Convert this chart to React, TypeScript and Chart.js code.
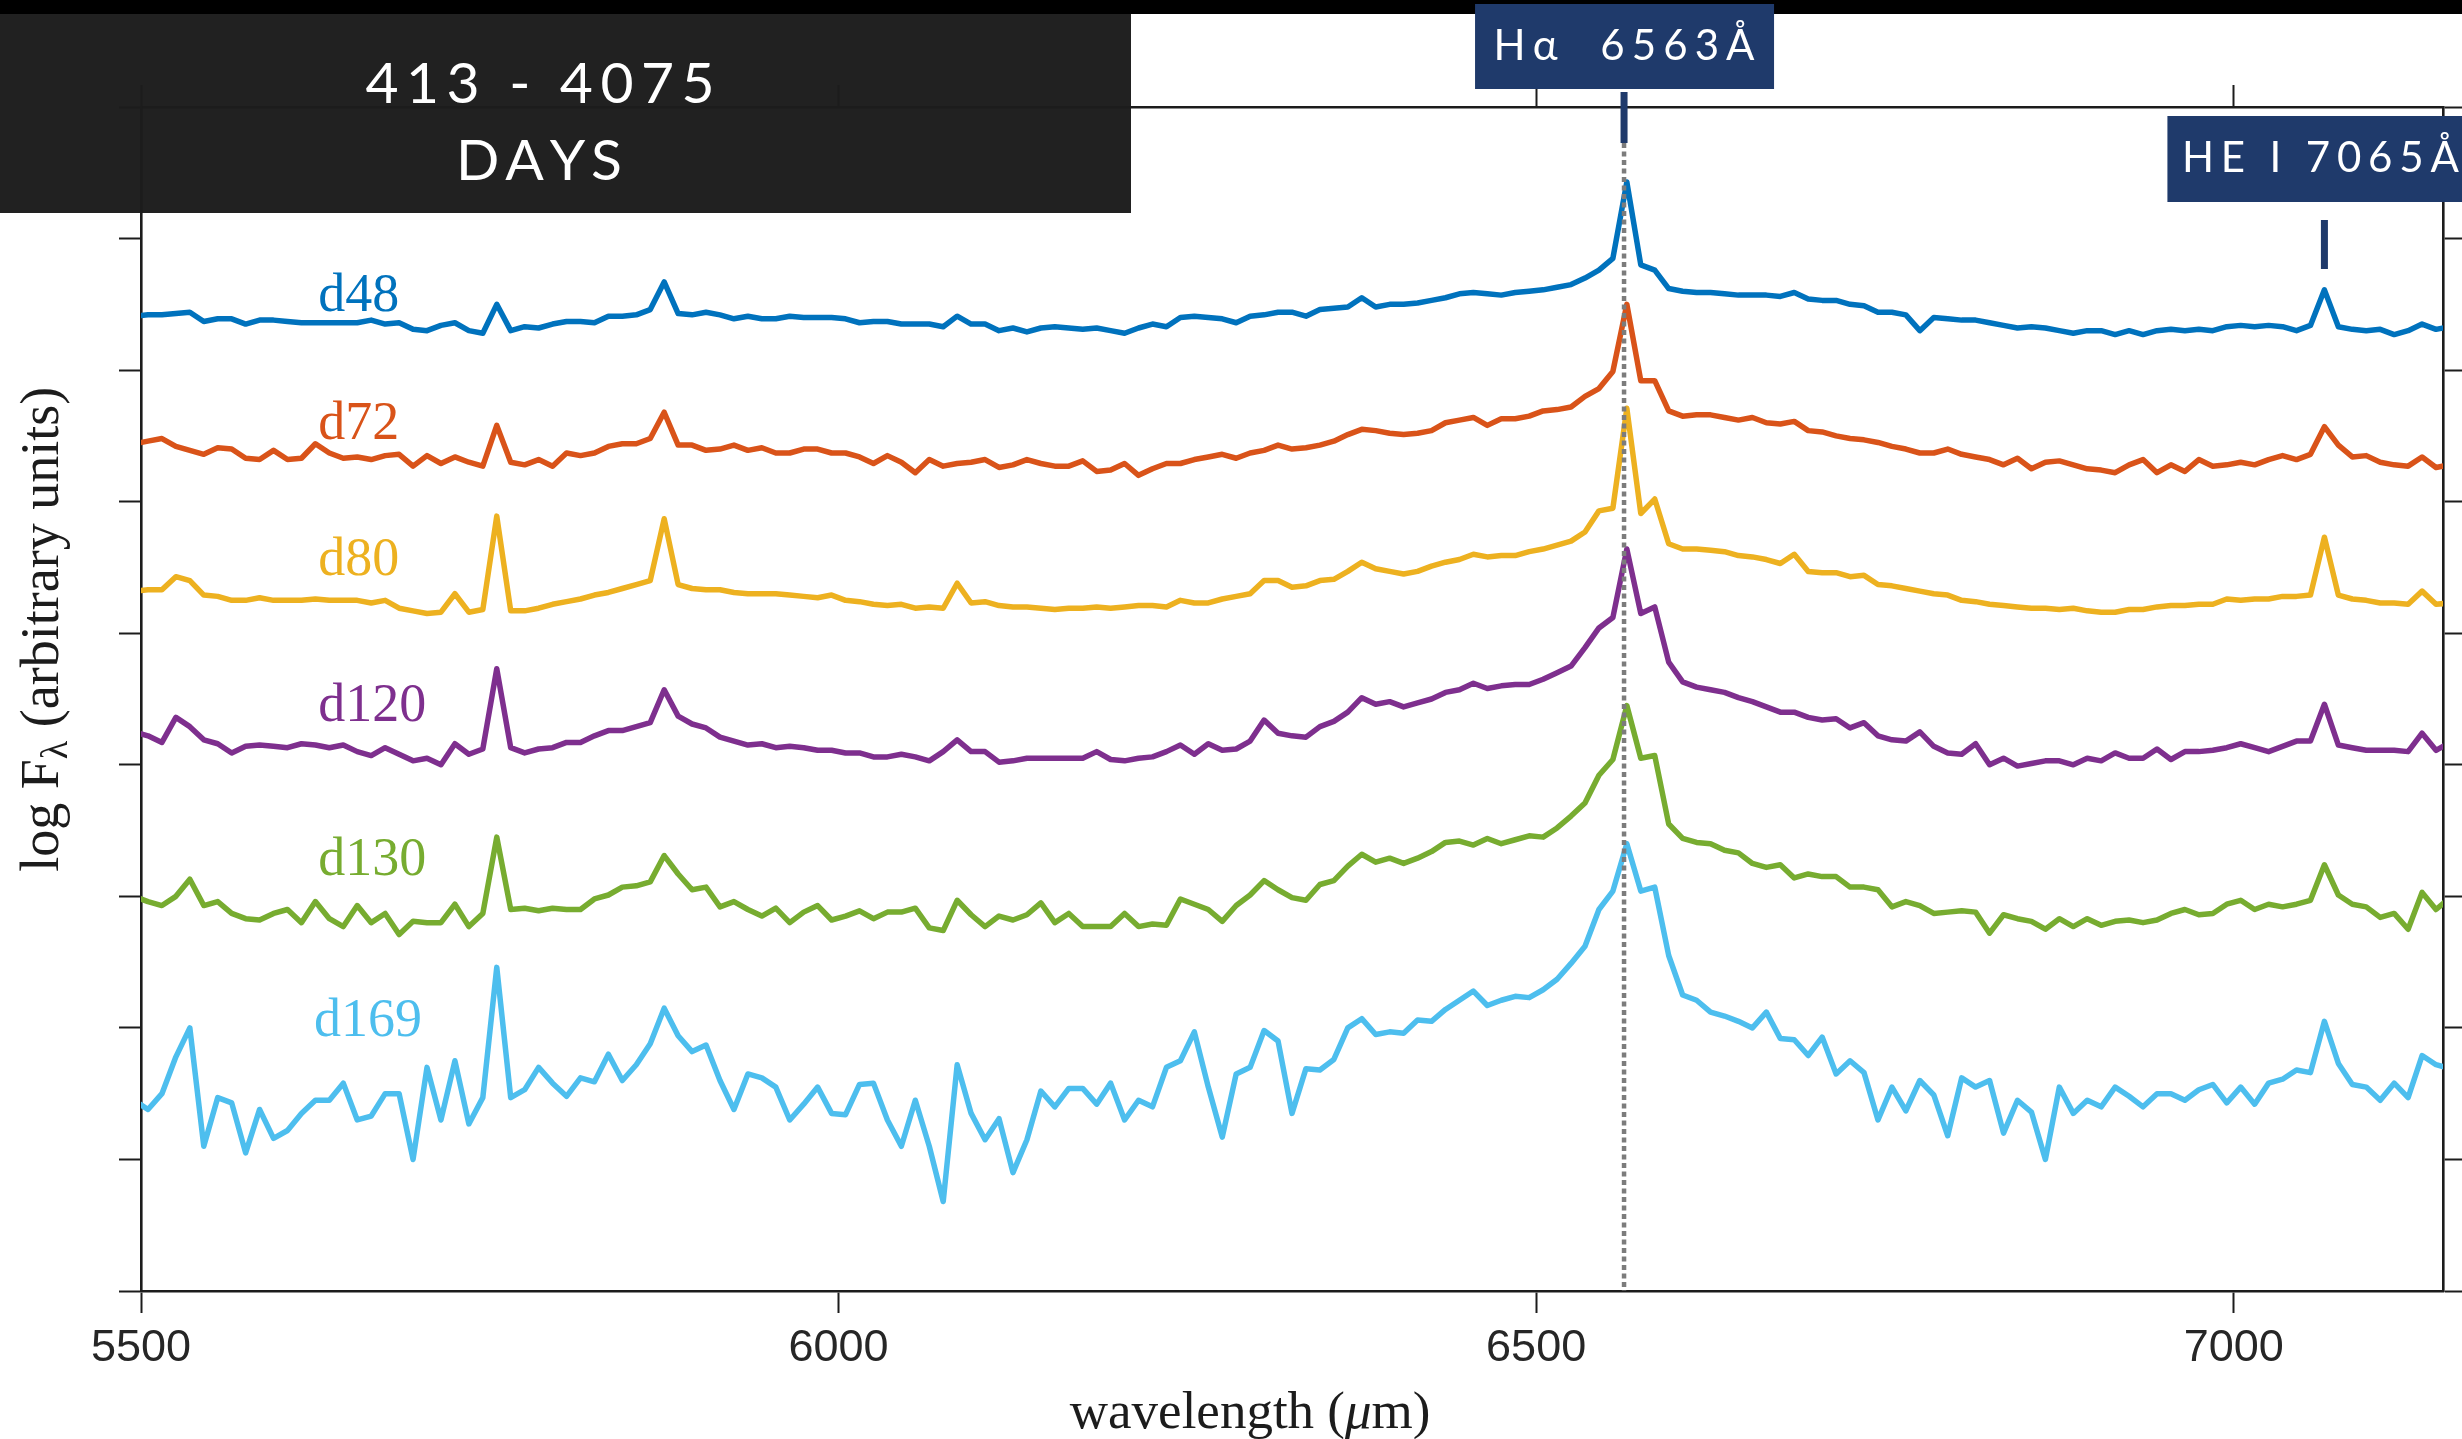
import React, { useEffect, useRef } from 'react';
import { Chart, registerables } from 'chart.js';

Chart.register(...registerables);

// Wavelength grid shared by every spectrum (Å)
const WAVELENGTH = [
  5495, 5505, 5515, 5525, 5535, 5545, 5555, 5565, 5575, 5585,
  5595, 5605, 5615, 5625, 5635, 5645, 5655, 5665, 5675, 5685,
  5695, 5705, 5715, 5725, 5735, 5745, 5755, 5765, 5775, 5785,
  5795, 5805, 5815, 5825, 5835, 5845, 5855, 5865, 5875, 5885,
  5895, 5905, 5915, 5925, 5935, 5945, 5955, 5965, 5975, 5985,
  5995, 6005, 6015, 6025, 6035, 6045, 6055, 6065, 6075, 6085,
  6095, 6105, 6115, 6125, 6135, 6145, 6155, 6165, 6175, 6185,
  6195, 6205, 6215, 6225, 6235, 6245, 6255, 6265, 6275, 6285,
  6295, 6305, 6315, 6325, 6335, 6345, 6355, 6365, 6375, 6385,
  6395, 6405, 6415, 6425, 6435, 6445, 6455, 6465, 6475, 6485,
  6495, 6505, 6515, 6525, 6535, 6545, 6555, 6565, 6575, 6585,
  6595, 6605, 6615, 6625, 6635, 6645, 6655, 6665, 6675, 6685,
  6695, 6705, 6715, 6725, 6735, 6745, 6755, 6765, 6775, 6785,
  6795, 6805, 6815, 6825, 6835, 6845, 6855, 6865, 6875, 6885,
  6895, 6905, 6915, 6925, 6935, 6945, 6955, 6965, 6975, 6985,
  6995, 7005, 7015, 7025, 7035, 7045, 7055, 7065, 7075, 7085,
  7095, 7105, 7115, 7125, 7135, 7145, 7155,
];

// log F_lambda, each epoch offset vertically
const D48 = [
  7.41, 7.42, 7.42, 7.43, 7.44, 7.37, 7.39, 7.39, 7.35, 7.38,
  7.38, 7.37, 7.36, 7.36, 7.36, 7.36, 7.36, 7.38, 7.35, 7.36,
  7.31, 7.30, 7.34, 7.36, 7.30, 7.28, 7.50, 7.30, 7.33, 7.32,
  7.35, 7.37, 7.37, 7.36, 7.41, 7.41, 7.42, 7.46, 7.67, 7.43,
  7.42, 7.44, 7.42, 7.39, 7.41, 7.39, 7.39, 7.41, 7.40, 7.40,
  7.40, 7.39, 7.36, 7.37, 7.37, 7.35, 7.35, 7.35, 7.33, 7.41,
  7.35, 7.35, 7.30, 7.32, 7.29, 7.32, 7.33, 7.32, 7.31, 7.32,
  7.30, 7.28, 7.32, 7.35, 7.33, 7.40, 7.41, 7.40, 7.39, 7.36,
  7.41, 7.42, 7.44, 7.44, 7.41, 7.46, 7.47, 7.48, 7.55, 7.48,
  7.50, 7.50, 7.51, 7.53, 7.55, 7.58, 7.59, 7.58, 7.57, 7.59,
  7.60, 7.61, 7.63, 7.65, 7.70, 7.76, 7.85, 8.43, 7.80, 7.76,
  7.62, 7.60, 7.59, 7.59, 7.58, 7.57, 7.57, 7.57, 7.56, 7.59,
  7.54, 7.53, 7.53, 7.50, 7.49, 7.44, 7.44, 7.42, 7.30, 7.40,
  7.39, 7.38, 7.38, 7.36, 7.34, 7.32, 7.33, 7.32, 7.30, 7.28,
  7.30, 7.30, 7.27, 7.30, 7.27, 7.30, 7.31, 7.30, 7.31, 7.30,
  7.33, 7.34, 7.33, 7.34, 7.33, 7.30, 7.34, 7.61, 7.33, 7.31,
  7.30, 7.31, 7.27, 7.30, 7.35, 7.31, 7.33,
];

const D72 = [
  6.44, 6.46, 6.48, 6.42, 6.39, 6.36, 6.41, 6.40, 6.33, 6.32,
  6.39, 6.32, 6.33, 6.44, 6.37, 6.33, 6.34, 6.32, 6.35, 6.36,
  6.27, 6.35, 6.29, 6.34, 6.30, 6.27, 6.58, 6.30, 6.28, 6.32,
  6.27, 6.37, 6.35, 6.37, 6.42, 6.44, 6.44, 6.48, 6.68, 6.43,
  6.43, 6.39, 6.40, 6.43, 6.39, 6.41, 6.37, 6.37, 6.40, 6.40,
  6.37, 6.37, 6.34, 6.29, 6.35, 6.30, 6.22, 6.32, 6.27, 6.29,
  6.30, 6.32, 6.26, 6.28, 6.32, 6.29, 6.27, 6.27, 6.31, 6.23,
  6.24, 6.29, 6.20, 6.25, 6.29, 6.29, 6.32, 6.34, 6.36, 6.33,
  6.37, 6.39, 6.43, 6.40, 6.41, 6.43, 6.46, 6.51, 6.55, 6.54,
  6.52, 6.51, 6.52, 6.54, 6.60, 6.62, 6.64, 6.58, 6.63, 6.63,
  6.65, 6.69, 6.70, 6.72, 6.80, 6.86, 6.99, 7.50, 6.92, 6.92,
  6.69, 6.65, 6.66, 6.66, 6.64, 6.62, 6.64, 6.60, 6.59, 6.61,
  6.54, 6.53, 6.50, 6.48, 6.47, 6.45, 6.42, 6.40, 6.37, 6.37,
  6.40, 6.36, 6.34, 6.32, 6.28, 6.33, 6.25, 6.30, 6.31, 6.28,
  6.25, 6.24, 6.22, 6.28, 6.32, 6.22, 6.28, 6.23, 6.32, 6.27,
  6.28, 6.30, 6.28, 6.32, 6.35, 6.32, 6.36, 6.57, 6.43, 6.34,
  6.35, 6.30, 6.28, 6.27, 6.34, 6.26, 6.28,
];

const D80 = [
  5.32, 5.33, 5.33, 5.43, 5.40, 5.29, 5.28, 5.25, 5.25, 5.27,
  5.25, 5.25, 5.25, 5.26, 5.25, 5.25, 5.25, 5.23, 5.25, 5.19,
  5.17, 5.15, 5.16, 5.30, 5.16, 5.18, 5.89, 5.17, 5.17, 5.19,
  5.22, 5.24, 5.26, 5.29, 5.31, 5.34, 5.37, 5.40, 5.87, 5.37,
  5.34, 5.33, 5.33, 5.31, 5.30, 5.30, 5.30, 5.29, 5.28, 5.27,
  5.29, 5.25, 5.24, 5.22, 5.21, 5.22, 5.19, 5.20, 5.19, 5.38,
  5.23, 5.24, 5.21, 5.20, 5.20, 5.19, 5.18, 5.19, 5.19, 5.20,
  5.19, 5.20, 5.21, 5.21, 5.20, 5.25, 5.23, 5.23, 5.26, 5.28,
  5.30, 5.40, 5.40, 5.35, 5.36, 5.40, 5.41, 5.47, 5.54, 5.49,
  5.47, 5.45, 5.47, 5.51, 5.54, 5.56, 5.60, 5.58, 5.59, 5.59,
  5.62, 5.64, 5.67, 5.70, 5.77, 5.93, 5.95, 6.71, 5.91, 6.02,
  5.68, 5.64, 5.64, 5.63, 5.62, 5.59, 5.58, 5.56, 5.53, 5.60,
  5.47, 5.46, 5.46, 5.43, 5.44, 5.37, 5.36, 5.34, 5.32, 5.30,
  5.29, 5.25, 5.24, 5.22, 5.21, 5.20, 5.19, 5.19, 5.18, 5.19,
  5.17, 5.16, 5.16, 5.18, 5.18, 5.20, 5.21, 5.21, 5.22, 5.22,
  5.26, 5.25, 5.26, 5.26, 5.28, 5.28, 5.29, 5.73, 5.29, 5.26,
  5.25, 5.23, 5.23, 5.22, 5.32, 5.22, 5.23,
];

const D120 = [
  4.25, 4.22, 4.17, 4.36, 4.29, 4.19, 4.16, 4.09, 4.14, 4.15,
  4.14, 4.13, 4.16, 4.15, 4.13, 4.15, 4.10, 4.07, 4.13, 4.08,
  4.03, 4.05, 4.00, 4.16, 4.08, 4.12, 4.73, 4.13, 4.09, 4.12,
  4.13, 4.17, 4.17, 4.22, 4.26, 4.26, 4.29, 4.32, 4.57, 4.37,
  4.31, 4.28, 4.21, 4.18, 4.15, 4.16, 4.13, 4.14, 4.13, 4.11,
  4.11, 4.09, 4.09, 4.06, 4.06, 4.08, 4.06, 4.03, 4.10, 4.19,
  4.10, 4.10, 4.02, 4.03, 4.05, 4.05, 4.05, 4.05, 4.05, 4.10,
  4.04, 4.03, 4.05, 4.06, 4.10, 4.15, 4.08, 4.16, 4.11, 4.12,
  4.18, 4.34, 4.24, 4.22, 4.21, 4.29, 4.33, 4.40, 4.51, 4.46,
  4.48, 4.44, 4.47, 4.50, 4.55, 4.57, 4.62, 4.58, 4.60, 4.61,
  4.61, 4.65, 4.70, 4.75, 4.89, 5.04, 5.12, 5.64, 5.15, 5.20,
  4.78, 4.63, 4.59, 4.57, 4.55, 4.51, 4.48, 4.44, 4.40, 4.40,
  4.36, 4.34, 4.35, 4.28, 4.32, 4.22, 4.19, 4.18, 4.25, 4.14,
  4.09, 4.08, 4.16, 4.00, 4.05, 3.99, 4.01, 4.03, 4.03, 4.00,
  4.05, 4.03, 4.09, 4.05, 4.05, 4.12, 4.04, 4.10, 4.10, 4.11,
  4.13, 4.16, 4.13, 4.10, 4.14, 4.18, 4.18, 4.46, 4.15, 4.13,
  4.11, 4.11, 4.11, 4.10, 4.24, 4.11, 4.17,
];

const D130 = [
  3.00, 2.96, 2.93, 3.00, 3.13, 2.93, 2.96, 2.87, 2.83, 2.82,
  2.87, 2.90, 2.80, 2.96, 2.83, 2.77, 2.93, 2.80, 2.87, 2.71,
  2.81, 2.80, 2.80, 2.94, 2.77, 2.87, 3.45, 2.90, 2.91, 2.89,
  2.91, 2.90, 2.90, 2.98, 3.01, 3.07, 3.08, 3.11, 3.31, 3.17,
  3.05, 3.07, 2.92, 2.96, 2.90, 2.85, 2.91, 2.80, 2.88, 2.93,
  2.82, 2.85, 2.89, 2.83, 2.88, 2.88, 2.91, 2.76, 2.74, 2.97,
  2.86, 2.77, 2.85, 2.82, 2.86, 2.95, 2.80, 2.87, 2.77, 2.77,
  2.77, 2.87, 2.77, 2.79, 2.78, 2.98, 2.94, 2.90, 2.81, 2.93,
  3.01, 3.12, 3.05, 2.99, 2.97, 3.09, 3.12, 3.23, 3.32, 3.26,
  3.29, 3.25, 3.29, 3.34, 3.41, 3.42, 3.39, 3.44, 3.40, 3.43,
  3.46, 3.45, 3.52, 3.61, 3.71, 3.92, 4.04, 4.45, 4.05, 4.07,
  3.55, 3.44, 3.41, 3.40, 3.35, 3.33, 3.25, 3.22, 3.24, 3.14,
  3.17, 3.15, 3.15, 3.07, 3.07, 3.05, 2.92, 2.96, 2.93, 2.87,
  2.88, 2.89, 2.88, 2.72, 2.86, 2.83, 2.81, 2.75, 2.83, 2.77,
  2.83, 2.78, 2.81, 2.82, 2.80, 2.82, 2.87, 2.90, 2.86, 2.87,
  2.94, 2.97, 2.90, 2.94, 2.92, 2.94, 2.97, 3.24, 3.01, 2.94,
  2.92, 2.84, 2.87, 2.75, 3.03, 2.90, 2.99,
];

const D169 = [
  1.45, 1.38, 1.50, 1.78, 2.00, 1.10, 1.47, 1.43, 1.05, 1.38,
  1.16, 1.22, 1.35, 1.45, 1.45, 1.58, 1.30, 1.33, 1.50, 1.50,
  1.00, 1.70, 1.30, 1.75, 1.27, 1.47, 2.46, 1.47, 1.53, 1.70,
  1.58, 1.48, 1.62, 1.59, 1.80, 1.60, 1.72, 1.88, 2.15, 1.94,
  1.82, 1.87, 1.60, 1.38, 1.65, 1.62, 1.55, 1.30, 1.42, 1.55,
  1.35, 1.34, 1.57, 1.58, 1.30, 1.10, 1.45, 1.10, 0.68, 1.72,
  1.35, 1.15, 1.31, 0.90, 1.15, 1.52, 1.40, 1.54, 1.54, 1.42,
  1.58, 1.30, 1.45, 1.40, 1.70, 1.75, 1.97, 1.55, 1.17, 1.65,
  1.70, 1.98, 1.90, 1.35, 1.69, 1.68, 1.76, 2.00, 2.07, 1.95,
  1.97, 1.96, 2.06, 2.05, 2.14, 2.21, 2.28, 2.17, 2.21, 2.24,
  2.23, 2.29, 2.37, 2.49, 2.62, 2.90, 3.04, 3.40, 3.04, 3.07,
  2.55, 2.25, 2.21, 2.12, 2.09, 2.05, 2.00, 2.12, 1.92, 1.91,
  1.79, 1.93, 1.65, 1.75, 1.66, 1.30, 1.55, 1.37, 1.60, 1.49,
  1.18, 1.62, 1.55, 1.60, 1.20, 1.45, 1.36, 1.00, 1.55, 1.35,
  1.45, 1.40, 1.55, 1.48, 1.40, 1.50, 1.50, 1.45, 1.53, 1.57,
  1.43, 1.55, 1.42, 1.58, 1.61, 1.68, 1.66, 2.05, 1.73, 1.57,
  1.55, 1.45, 1.58, 1.47, 1.79, 1.72, 1.69,
];

const SERIES_LABELS = ['d48', 'd72', 'd80', 'd120', 'd130', 'd169'];
const SERIES_VALUES = [D48, D72, D80, D120, D130, D169];
const SERIES_COLORS = ['#0072BD', '#D95319', '#EDB120', '#7E2F8E', '#77AC30', '#4DBEEE'];
// Anchor of each epoch name: wavelength of its left edge, level of its baseline
const LABEL_WAVELENGTH = [5627, 5627, 5627, 5627, 5627, 5624];
const LABEL_LEVEL = [7.45, 6.48, 5.44, 4.33, 3.16, 1.94];

const X_MIN = 5500;
const X_MAX = 7150;
const Y_MIN = 0;
const Y_MAX = 9;
const X_TICKS = [5500, 6000, 6500, 7000];
const Y_TICKS = [0, 1, 2, 3, 4, 5, 6, 7, 8, 9];

// Emission lines marked above the spectra
const LINE_NAMES = ['Hα  6563Å', 'HE I 7065Å'];
const LINE_WAVELENGTHS = [6563, 7065];

const EPOCH_RANGE = '413 - 4075';
const EPOCH_UNIT = 'DAYS';

const INK = '#1c1c1c';
const NAVY = '#1f3a6b';
const SERIF = '"Liberation Serif", "Times New Roman", serif';
const CAPTION_FONT = 'Lato, "Open Sans", sans-serif';

// Callout geometry (pixels) for each marked line
const CALLOUTS = [
  { boxTop: 4, boxBottom: 89, boxLeft: -149, boxRight: 150, textBaseline: 60, textWidth: 261, textShift: 0, barTop: 92, barBottom: 143 },
  { boxTop: 116, boxBottom: 202, boxLeft: -157, boxRight: 160, textBaseline: 172, textWidth: 277, textShift: -4, barTop: 220, barBottom: 269 },
];

function drawTracked(
  ctx: CanvasRenderingContext2D,
  text: string,
  cx: number,
  baseline: number,
  font: string,
  width: number,
) {
  ctx.font = font;
  const chars = Array.from(text);
  const widths = chars.map((c) => ctx.measureText(c).width);
  const glyphs = widths.reduce((a, b) => a + b, 0);
  const gap = chars.length > 1 ? (width - glyphs) / (chars.length - 1) : 0;
  let x = cx - width / 2;
  ctx.textAlign = 'left';
  ctx.textBaseline = 'alphabetic';
  chars.forEach((c, i) => {
    ctx.fillText(c, x, baseline);
    x += widths[i] + gap;
  });
}

type Run = { text: string; font: string; dy?: number };

function drawRuns(ctx: CanvasRenderingContext2D, runs: Run[], cx: number, baseline: number) {
  const widths = runs.map((r) => {
    ctx.font = r.font;
    return ctx.measureText(r.text).width;
  });
  const total = widths.reduce((a, b) => a + b, 0);
  let x = cx - total / 2;
  ctx.textAlign = 'left';
  ctx.textBaseline = 'alphabetic';
  runs.forEach((r, i) => {
    ctx.font = r.font;
    ctx.fillText(r.text, x, baseline + (r.dy || 0));
    x += widths[i];
  });
}

const decorations = {
  id: 'spectraDecorations',
  beforeDraw(chart: any) {
    const { ctx, width } = chart;
    ctx.save();
    ctx.fillStyle = '#ffffff';
    ctx.fillRect(0, 0, width, chart.height);
    // epoch banner
    ctx.fillStyle = '#212121';
    ctx.fillRect(0, 0, 1131, 213);
    ctx.fillStyle = '#000000';
    ctx.fillRect(0, 0, width, 14);
    ctx.fillStyle = '#ffffff';
    drawTracked(ctx, EPOCH_RANGE, 540, 103, `400 57px ${CAPTION_FONT}`, 349);
    drawTracked(ctx, EPOCH_UNIT, 539, 180, `400 57px ${CAPTION_FONT}`, 166);
    ctx.restore();
  },
  afterDatasetsDraw(chart: any) {
    const { ctx, chartArea } = chart;
    const xs = chart.scales.x;
    const ys = chart.scales.y;
    ctx.save();
    // H-alpha rest wavelength guide
    const hx = xs.getPixelForValue(LINE_WAVELENGTHS[0]);
    ctx.strokeStyle = '#7c7c7c';
    ctx.lineWidth = 4.5;
    ctx.setLineDash([5, 3.5]);
    ctx.beginPath();
    ctx.moveTo(hx, CALLOUTS[0].barBottom);
    ctx.lineTo(hx, chartArea.bottom);
    ctx.stroke();
    ctx.setLineDash([]);
    // epoch names
    ctx.font = `54px ${SERIF}`;
    ctx.textAlign = 'left';
    ctx.textBaseline = 'alphabetic';
    SERIES_LABELS.forEach((name, i) => {
      ctx.fillStyle = SERIES_COLORS[i];
      ctx.fillText(name, xs.getPixelForValue(LABEL_WAVELENGTH[i]), ys.getPixelForValue(LABEL_LEVEL[i]));
    });
    ctx.restore();
  },
  afterDraw(chart: any) {
    const { ctx, chartArea } = chart;
    const xs = chart.scales.x;
    const ys = chart.scales.y;
    ctx.save();
    // line callouts
    LINE_NAMES.forEach((name, i) => {
      const c = CALLOUTS[i];
      const px = xs.getPixelForValue(LINE_WAVELENGTHS[i]);
      ctx.fillStyle = NAVY;
      ctx.fillRect(px + c.boxLeft, c.boxTop, c.boxRight - c.boxLeft, c.boxBottom - c.boxTop);
      ctx.fillRect(px - 3.5, c.barTop, 7, c.barBottom - c.barTop);
      ctx.fillStyle = '#ffffff';
      drawTracked(ctx, name, px + c.textShift, c.textBaseline, `400 42px ${CAPTION_FONT}`, c.textWidth);
    });
    // axis titles
    ctx.fillStyle = INK;
    drawRuns(
      ctx,
      [
        { text: 'wavelength (', font: `53px ${SERIF}` },
        { text: 'μ', font: `italic 53px ${SERIF}` },
        { text: 'm)', font: `53px ${SERIF}` },
      ],
      xs.getPixelForValue(6295),
      1428,
    );
    ctx.save();
    ctx.translate(chartArea.left - 83, ys.getPixelForValue(5.03));
    ctx.rotate(-Math.PI / 2);
    drawRuns(
      ctx,
      [
        { text: 'log F', font: `54px ${SERIF}` },
        { text: 'λ', font: `38px ${SERIF}`, dy: 9 },
        { text: ' (arbitrary units)', font: `54px ${SERIF}` },
      ],
      0,
      0,
    );
    ctx.restore();
    ctx.restore();
  },
};

const axisGrid = {
  drawOnChartArea: false,
  drawTicks: true,
  tickLength: 22,
  tickWidth: 2,
  tickColor: INK,
  color: INK,
};
const axisBorder = { display: true, color: INK, width: 2.6 };

export default function App() {
  const canvasRef = useRef<HTMLCanvasElement | null>(null);

  useEffect(() => {
    document.body.style.margin = '0';
    const canvas = canvasRef.current;
    if (!canvas) return;

    const datasets = SERIES_VALUES.map((values, i) => ({
      label: SERIES_LABELS[i],
      data: WAVELENGTH.map((w, j) => ({ x: w, y: values[j] })),
      borderColor: SERIES_COLORS[i],
      backgroundColor: SERIES_COLORS[i],
      borderWidth: 5.5,
      pointRadius: 0,
      tension: 0,
      borderJoinStyle: 'round' as const,
      borderCapStyle: 'round' as const,
      clip: 0,
    }));

    const xTicks = (s: any) => {
      s.ticks = X_TICKS.map((v) => ({ value: v }));
    };
    const yTicks = (s: any) => {
      s.ticks = Y_TICKS.map((v) => ({ value: v }));
    };

    const chart = new Chart(canvas, {
      type: 'line',
      data: { datasets },
      options: {
        animation: false,
        responsive: false,
        devicePixelRatio: 1,
        layout: { padding: 0 },
        plugins: {
          legend: { display: false },
          tooltip: { enabled: false },
          title: { display: false },
        },
        scales: {
          x: {
            type: 'linear',
            position: 'bottom',
            min: X_MIN,
            max: X_MAX,
            afterBuildTicks: xTicks,
            afterFit: (s: any) => {
              s.height = 148;
            },
            grid: axisGrid,
            border: axisBorder,
            ticks: {
              color: '#262626',
              font: { family: '"Liberation Sans", Arial, sans-serif', size: 45 },
              padding: 9,
              maxRotation: 0,
              autoSkip: false,
              callback: (v: any) => String(v),
            },
          },
          x2: {
            type: 'linear',
            position: 'top',
            min: X_MIN,
            max: X_MAX,
            afterBuildTicks: xTicks,
            afterFit: (s: any) => {
              s.height = 107;
            },
            grid: axisGrid,
            border: axisBorder,
            ticks: { display: false },
          },
          y: {
            type: 'linear',
            position: 'left',
            min: Y_MIN,
            max: Y_MAX,
            afterBuildTicks: yTicks,
            afterFit: (s: any) => {
              s.width = 141;
            },
            grid: axisGrid,
            border: axisBorder,
            ticks: { display: false },
          },
          y2: {
            type: 'linear',
            position: 'right',
            min: Y_MIN,
            max: Y_MAX,
            afterBuildTicks: yTicks,
            afterFit: (s: any) => {
              s.width = 19;
            },
            grid: axisGrid,
            border: axisBorder,
            ticks: { display: false },
          },
        },
      } as any,
      plugins: [decorations],
    });

    return () => chart.destroy();
  }, []);

  return (
    <div style={{ position: 'fixed', left: 0, top: 0, width: 2462, height: 1439, background: '#ffffff', overflow: 'hidden' }}>
      <canvas ref={canvasRef} width={2462} height={1439} style={{ display: 'block' }} />
    </div>
  );
}
